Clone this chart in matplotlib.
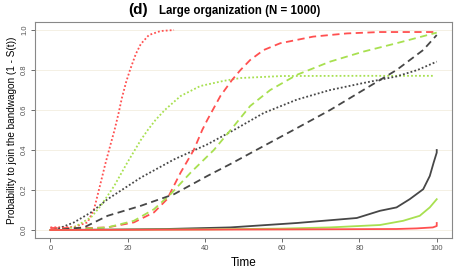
import matplotlib
matplotlib.use("Agg")
import matplotlib.pyplot as plt

plt.rcParams['font.family'] = ['Liberation Sans', 'DejaVu Sans']

# colours of the three groups
RED = "#ff5050"
GREEN = "#a8e050"
GREY = "#474747"

# dotted curves
t_red_dot = [0, 6.1, 9.6, 11.3, 12.6, 14.3, 15.6, 16.6, 17.6, 18.5, 19.6, 20.6, 22.1, 23.4, 25.5, 28.5, 32]
p_red_dot = [0.013, 0.015, 0.038, 0.104, 0.204, 0.337, 0.43, 0.50, 0.58, 0.66, 0.74, 0.80, 0.88, 0.93, 0.975, 0.995, 1.0]

t_green_dot = [0, 6.1, 10.5, 13, 16.5, 19.9, 23.4, 25.2, 27.2, 29.6, 33.7, 38.8, 44.9, 49.2, 60, 80, 99]
p_green_dot = [0.0, 0.013, 0.063, 0.12, 0.22, 0.337, 0.45, 0.50, 0.55, 0.60, 0.67, 0.72, 0.746, 0.76, 0.77, 0.771, 0.771]

t_grey_dot = [0, 1.8, 6.1, 10.5, 14.8, 23.4, 32, 40.6, 47.5, 55.2, 63.8, 72.4, 81, 89.6, 95, 100]
p_grey_dot = [0.0, 0.005, 0.038, 0.088, 0.154, 0.262, 0.353, 0.428, 0.50, 0.585, 0.652, 0.70, 0.735, 0.768, 0.80, 0.842]

# dashed curves
t_red_dash = [0, 10, 14.8, 21.6, 26.8, 30.2, 33.7, 37.1, 39.3, 40.6, 44, 47, 49.2, 51.7, 55.2, 59.5, 68, 76.7, 85.3, 100]
p_red_dash = [0.01, 0.01, 0.013, 0.038, 0.088, 0.154, 0.287, 0.40, 0.50, 0.55, 0.67, 0.75, 0.80, 0.85, 0.90, 0.934, 0.967, 0.983, 0.99, 0.99]

t_green_dash = [0, 8, 14.8, 21.6, 26.8, 31.1, 36.3, 42.3, 47.5, 51.7, 56.9, 63.8, 72.4, 81, 89.6, 100]
p_green_dash = [0.0, 0.005, 0.013, 0.046, 0.104, 0.179, 0.287, 0.40, 0.52, 0.62, 0.70, 0.776, 0.842, 0.892, 0.934, 0.987]

t_grey_dash = [0, 3, 8.7, 14.8, 23.4, 32, 40.6, 46.6, 55.2, 62.9, 72.4, 81, 89.6, 96.5, 100]
p_grey_dash = [0.0, 0.003, 0.013, 0.071, 0.121, 0.179, 0.27, 0.33, 0.42, 0.50, 0.60, 0.70, 0.80, 0.90, 0.975]

# solid curves
t_grey_solid = [0, 15, 30, 46.6, 63.8, 79.3, 85.3, 89.6, 93, 96.5, 98.2, 99.2, 100, 100]
p_grey_solid = [0.0, 0.002, 0.005, 0.013, 0.035, 0.06, 0.096, 0.113, 0.154, 0.204, 0.27, 0.337, 0.387, 0.40]

t_green_solid = [0, 40, 60, 72.4, 85.3, 91.3, 95.6, 98.2, 100]
p_green_solid = [0.0, 0.003, 0.007, 0.013, 0.025, 0.046, 0.071, 0.113, 0.154]

t_red_solid = [0, 60, 89.6, 94.8, 99, 100, 100]
p_red_solid = [0.0, 0.003, 0.005, 0.008, 0.013, 0.02, 0.035]

x_ticks = [0, 20, 40, 60, 80, 100]
y_ticks = [0.0, 0.2, 0.4, 0.6, 0.8, 1.0]

fig = plt.figure(figsize=(4.54, 2.72), dpi=100)
ax = fig.add_axes([0.077, 0.125, 0.919, 0.794])

for y in y_ticks:
    ax.axhline(y, color="#f3eedf", lw=0.6, zorder=0)

dot = (0, (1, 1.2))
dash = (0, (4, 2.5))
lw = 1.3

ax.plot(t_red_dot, p_red_dot, color=RED, lw=lw, ls=dot)
ax.plot(t_green_dot, p_green_dot, color=GREEN, lw=lw, ls=dot)
ax.plot(t_grey_dot, p_grey_dot, color=GREY, lw=lw, ls=dot)
ax.plot(t_red_dash, p_red_dash, color=RED, lw=lw, ls=dash)
ax.plot(t_green_dash, p_green_dash, color=GREEN, lw=lw, ls=dash)
ax.plot(t_grey_dash, p_grey_dash, color=GREY, lw=lw, ls=dash)
ax.plot(t_grey_solid, p_grey_solid, color=GREY, lw=lw)
ax.plot(t_green_solid, p_green_solid, color=GREEN, lw=lw)
ax.plot(t_red_solid, p_red_solid, color=RED, lw=lw)

ax.set_xlim(-4, 104)
ax.set_ylim(-0.04, 1.04)
ax.set_xticks(x_ticks)
ax.set_xticklabels([str(v) for v in x_ticks])
ax.set_yticks(y_ticks)
ax.set_yticklabels([f"{v:.1f}" for v in y_ticks], rotation=90, va="center")
ax.tick_params(labelsize=5.5, colors="#555555", length=3, width=0.6, pad=2)

for s in ax.spines.values():
    s.set_color("#888888")
    s.set_linewidth(0.8)

ax.set_xlabel("Time", fontsize=8.5, labelpad=4)
ax.set_ylabel("Probability to join the bandwagon (1 - S(t))", fontsize=7.2, labelpad=3)

fig.text(0.283, 0.962, "(d)", fontsize=11, fontweight="bold", ha="left", va="center")
fig.text(0.350, 0.960, "Large organization (N = 1000)", fontsize=8.3, fontweight="bold",
         ha="left", va="center")

fig.savefig("out.png", dpi=100)
